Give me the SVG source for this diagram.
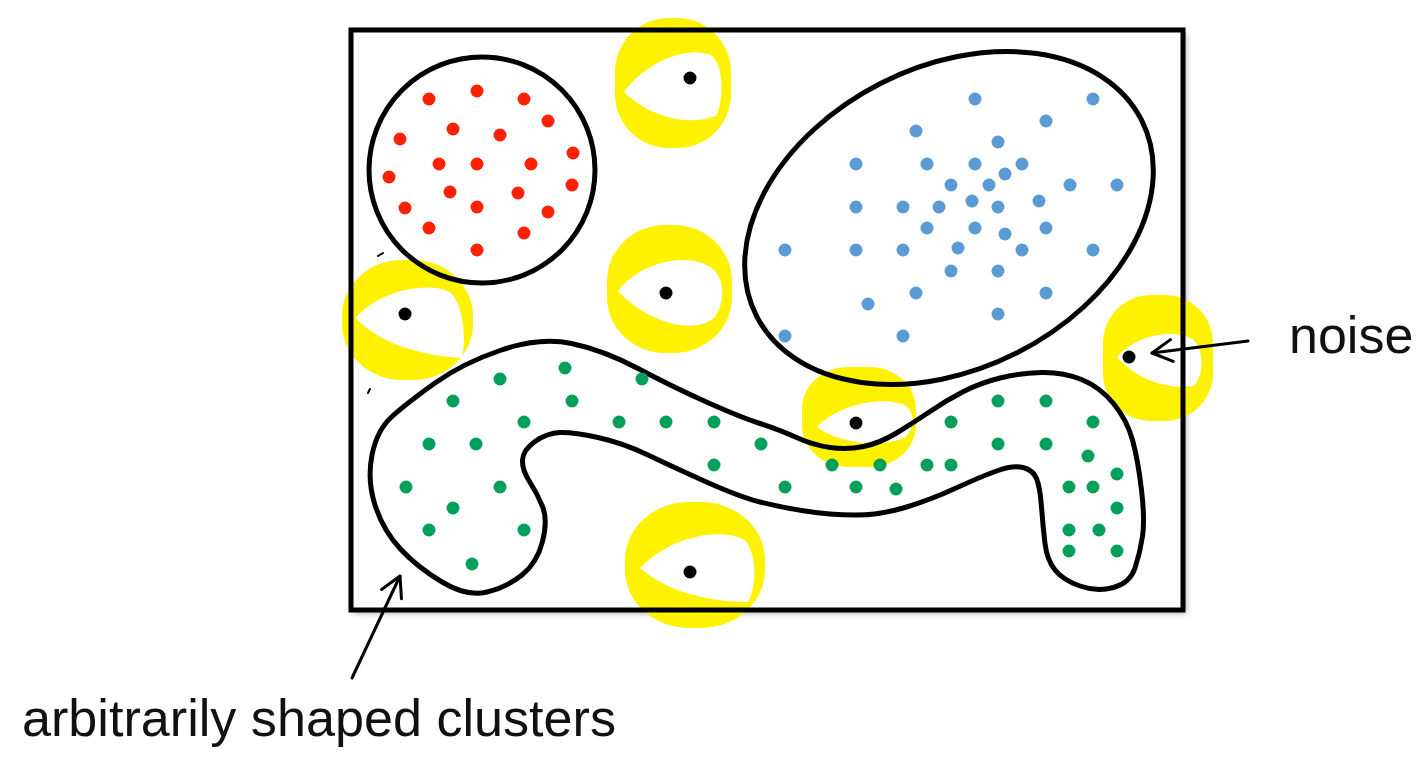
<svg xmlns="http://www.w3.org/2000/svg" width="1426" height="767" viewBox="0 0 1426 767">
<defs>
<style>
.outline{fill:none;stroke:#000;stroke-width:5;stroke-linejoin:round}
.hl{fill:#fff200}
.eye{fill:#fff}
.nd{fill:#000}
.r{fill:#ff2200}
.b{fill:#5b9bd5}
.g{fill:#00a05a}
.conn{fill:none;stroke:#000;stroke-width:3;stroke-linecap:round}
.lbl{font-family:"Liberation Sans",Arial,sans-serif;font-size:52px;fill:#111}
</style>
<filter id="sh" x="-5%" y="-5%" width="110%" height="110%">
<feDropShadow dx="3" dy="3" stdDeviation="3" flood-color="#000" flood-opacity="0.35"/>
</filter>
<marker id="arr" markerUnits="userSpaceOnUse" markerWidth="26" markerHeight="26" refX="22" refY="12" orient="auto" overflow="visible">
<path d="M2,1 L22,12 L2,23" fill="none" stroke="#000" stroke-width="3" stroke-linecap="round" stroke-linejoin="round"/>
</marker>
</defs>
<rect width="1426" height="767" fill="#fff"/>
<g id="frame-bg">
<rect x="351" y="30" width="832" height="580" fill="#fff" filter="url(#sh)"/>
</g>
<g id="noise-highlights">
<g id="noise-top">
<rect class="hl" x="615" y="18" width="116" height="130" rx="54" ry="54"/>
<path class="eye" d="M624,92 C645,62 690,44 712,56 C724,66 724,100 716,116 C690,126 650,118 624,92 Z"/>
<circle class="nd" cx="690" cy="78" r="6.5"/>
</g>
<g id="noise-middle">
<rect class="hl" x="607" y="225" width="125" height="128" rx="58" ry="56"/>
<path class="eye" d="M618,291 C640,262 690,250 714,270 C726,282 724,305 714,318 C695,334 650,325 618,291 Z"/>
<circle class="nd" cx="666" cy="293" r="6.5"/>
</g>
<g id="noise-left">
<rect class="hl" x="342" y="260" width="131" height="120" rx="60" ry="56"/>
<path class="eye" d="M356,318 C375,293 425,280 450,292 C464,305 466,340 462,358 C425,356 380,345 356,318 Z"/>
<circle class="nd" cx="405" cy="314" r="6.5"/>
</g>
<g id="noise-center">
<rect class="hl" x="802" y="367" width="114" height="100" rx="46" ry="42"/>
<path class="eye" d="M817,427 C838,404 885,395 906,406 C916,414 914,430 904,438 C880,448 840,444 817,427 Z"/>
<circle class="nd" cx="856" cy="423" r="6.5"/>
</g>
<g id="noise-bottom">
<rect class="hl" x="625" y="502" width="140" height="126" rx="64" ry="58"/>
<path class="eye" d="M640,568 C668,538 718,526 745,540 C758,556 756,588 748,602 C705,602 665,590 640,568 Z"/>
<circle class="nd" cx="690" cy="572" r="6.5"/>
</g>
<g id="noise-right">
<rect class="hl" x="1103" y="295" width="110" height="126" rx="48" ry="48"/>
<path class="eye" d="M1117,357 C1132,338 1170,326 1194,340 C1204,352 1204,374 1194,386 C1165,390 1135,378 1117,357 Z"/>
<circle class="nd" cx="1129" cy="357" r="6.5"/>
</g>
</g>
<g id="cluster-red">
<circle class="outline" cx="482" cy="170" r="113"/>
<circle class="r" cx="429" cy="99" r="6.5"/><circle class="r" cx="477" cy="91" r="6.5"/><circle class="r" cx="524" cy="99" r="6.5"/>
<circle class="r" cx="548" cy="121" r="6.5"/><circle class="r" cx="400" cy="139" r="6.5"/><circle class="r" cx="453" cy="129" r="6.5"/>
<circle class="r" cx="500" cy="135" r="6.5"/><circle class="r" cx="573" cy="153" r="6.5"/><circle class="r" cx="389" cy="177" r="6.5"/>
<circle class="r" cx="439" cy="164" r="6.5"/><circle class="r" cx="477" cy="164" r="6.5"/><circle class="r" cx="531" cy="164" r="6.5"/>
<circle class="r" cx="572" cy="185" r="6.5"/><circle class="r" cx="450" cy="192" r="6.5"/><circle class="r" cx="518" cy="193" r="6.5"/>
<circle class="r" cx="405" cy="208" r="6.5"/><circle class="r" cx="477" cy="207" r="6.5"/><circle class="r" cx="548" cy="212" r="6.5"/>
<circle class="r" cx="429" cy="228" r="6.5"/><circle class="r" cx="524" cy="233" r="6.5"/><circle class="r" cx="477" cy="250" r="6.5"/>
</g>
<g id="cluster-blue">
<ellipse class="outline" cx="949" cy="218" rx="216" ry="151" transform="rotate(-27 949 218)"/>
<circle class="b" cx="975" cy="99" r="6.5"/><circle class="b" cx="1093" cy="99" r="6.5"/><circle class="b" cx="1046" cy="121" r="6.5"/>
<circle class="b" cx="916" cy="131" r="6.5"/><circle class="b" cx="998" cy="142" r="6.5"/><circle class="b" cx="856" cy="164" r="6.5"/>
<circle class="b" cx="927" cy="164" r="6.5"/><circle class="b" cx="975" cy="164" r="6.5"/><circle class="b" cx="1022" cy="164" r="6.5"/>
<circle class="b" cx="1005" cy="174" r="6.5"/><circle class="b" cx="951" cy="185" r="6.5"/><circle class="b" cx="989" cy="185" r="6.5"/>
<circle class="b" cx="1070" cy="185" r="6.5"/><circle class="b" cx="1117" cy="185" r="6.5"/><circle class="b" cx="856" cy="207" r="6.5"/>
<circle class="b" cx="903" cy="207" r="6.5"/><circle class="b" cx="939" cy="207" r="6.5"/><circle class="b" cx="972" cy="201" r="6.5"/>
<circle class="b" cx="998" cy="207" r="6.5"/><circle class="b" cx="1039" cy="201" r="6.5"/><circle class="b" cx="927" cy="228" r="6.5"/>
<circle class="b" cx="975" cy="228" r="6.5"/><circle class="b" cx="1005" cy="234" r="6.5"/><circle class="b" cx="1046" cy="228" r="6.5"/>
<circle class="b" cx="785" cy="250" r="6.5"/><circle class="b" cx="856" cy="250" r="6.5"/><circle class="b" cx="903" cy="250" r="6.5"/>
<circle class="b" cx="958" cy="248" r="6.5"/><circle class="b" cx="1022" cy="250" r="6.5"/><circle class="b" cx="1093" cy="250" r="6.5"/>
<circle class="b" cx="951" cy="271" r="6.5"/><circle class="b" cx="998" cy="271" r="6.5"/><circle class="b" cx="916" cy="293" r="6.5"/>
<circle class="b" cx="1046" cy="293" r="6.5"/><circle class="b" cx="868" cy="304" r="6.5"/><circle class="b" cx="998" cy="314" r="6.5"/>
<circle class="b" cx="785" cy="336" r="6.5"/><circle class="b" cx="903" cy="336" r="6.5"/>
</g>
<g id="cluster-green">
<path class="outline" d="M435,383 Q463,363 501.5,350 Q540,337 571.5,343.5 Q603,350 638,368.5 Q673,387 706.5,402 Q740,417 760,423.5 Q780,430 796.5,437.5 Q813,445 830,447.5 Q847,450 863.5,446.5 Q880,443 896.5,433 Q913,423 930,411.5 Q947,400 963.5,391.5 Q980,383 1000,378 Q1020,373 1041.5,372.5 Q1063,372 1081.5,379.5 Q1100,387 1113.5,403.5 Q1127,420 1132.5,440 Q1138,460 1141.5,490 Q1145,520 1142.5,536.5 Q1140,553 1135,568 Q1130,583 1113.5,587.5 Q1097,592 1080,586 Q1063,580 1055,570 Q1047,560 1045,543.5 Q1043,527 1041.5,507 Q1040,487 1036.5,478.5 Q1033,470 1023,467.5 Q1013,465 996.5,471 Q980,477 955,488.5 Q930,500 905,507.5 Q880,515 855,515 Q830,515 805,511 Q780,507 760,502 Q740,497 706.5,482 Q673,467 648,455 Q623,443 598,437.5 Q573,432 560,432.5 Q547,433 535,441.5 Q523,450 522.5,460 Q522,470 529.5,481.5 Q537,493 542.5,506.5 Q548,520 542.5,541.5 Q537,563 522,575 Q507,587 487,592 Q467,597 442,582 Q417,567 400,548.5 Q383,530 375,505 Q367,480 372,455 Q377,430 392,416.5 Q407,403 435,383 Z"/>
<circle class="g" cx="565" cy="368" r="6.5"/><circle class="g" cx="500" cy="379" r="6.5"/><circle class="g" cx="642" cy="379" r="6.5"/>
<circle class="g" cx="453" cy="401" r="6.5"/><circle class="g" cx="572" cy="401" r="6.5"/><circle class="g" cx="524" cy="422" r="6.5"/>
<circle class="g" cx="619" cy="422" r="6.5"/><circle class="g" cx="666" cy="422" r="6.5"/><circle class="g" cx="714" cy="422" r="6.5"/>
<circle class="g" cx="429" cy="444" r="6.5"/><circle class="g" cx="476" cy="444" r="6.5"/><circle class="g" cx="761" cy="444" r="6.5"/>
<circle class="g" cx="714" cy="465" r="6.5"/><circle class="g" cx="406" cy="487" r="6.5"/><circle class="g" cx="500" cy="487" r="6.5"/>
<circle class="g" cx="785" cy="487" r="6.5"/><circle class="g" cx="453" cy="508" r="6.5"/><circle class="g" cx="429" cy="530" r="6.5"/>
<circle class="g" cx="524" cy="530" r="6.5"/><circle class="g" cx="472" cy="564" r="6.5"/>
<circle class="g" cx="998" cy="401" r="6.5"/><circle class="g" cx="1046" cy="401" r="6.5"/><circle class="g" cx="951" cy="422" r="6.5"/>
<circle class="g" cx="1093" cy="422" r="6.5"/><circle class="g" cx="998" cy="444" r="6.5"/><circle class="g" cx="1046" cy="444" r="6.5"/>
<circle class="g" cx="1088" cy="456" r="6.5"/><circle class="g" cx="832" cy="465" r="6.5"/><circle class="g" cx="880" cy="465" r="6.5"/>
<circle class="g" cx="927" cy="465" r="6.5"/><circle class="g" cx="951" cy="465" r="6.5"/><circle class="g" cx="1117" cy="474" r="6.5"/>
<circle class="g" cx="856" cy="487" r="6.5"/><circle class="g" cx="896" cy="489" r="6.5"/><circle class="g" cx="1069" cy="487" r="6.5"/>
<circle class="g" cx="1093" cy="487" r="6.5"/><circle class="g" cx="1117" cy="508" r="6.5"/><circle class="g" cx="1069" cy="530" r="6.5"/>
<circle class="g" cx="1099" cy="530" r="6.5"/><circle class="g" cx="1069" cy="551" r="6.5"/><circle class="g" cx="1117" cy="551" r="6.5"/>
</g>
<g id="frame">
<rect x="351" y="30" width="832" height="580" fill="none" stroke="#000" stroke-width="5"/>
<line x1="378" y1="256" x2="383" y2="253" stroke="#000" stroke-width="2" stroke-linecap="round"/>
<line x1="368" y1="393" x2="370" y2="389" stroke="#000" stroke-width="2" stroke-linecap="round"/>
</g>
<g id="connectors">
<line class="conn" x1="1248" y1="341" x2="1152" y2="353" marker-end="url(#arr)"/>
<line class="conn" x1="352" y1="678" x2="400" y2="576" marker-end="url(#arr)"/>
</g>
<g id="labels">
<text class="lbl" x="1289" y="353">noise</text>
<text class="lbl" x="22" y="736" textLength="594" lengthAdjust="spacingAndGlyphs">arbitrarily shaped clusters</text>
</g>
</svg>
